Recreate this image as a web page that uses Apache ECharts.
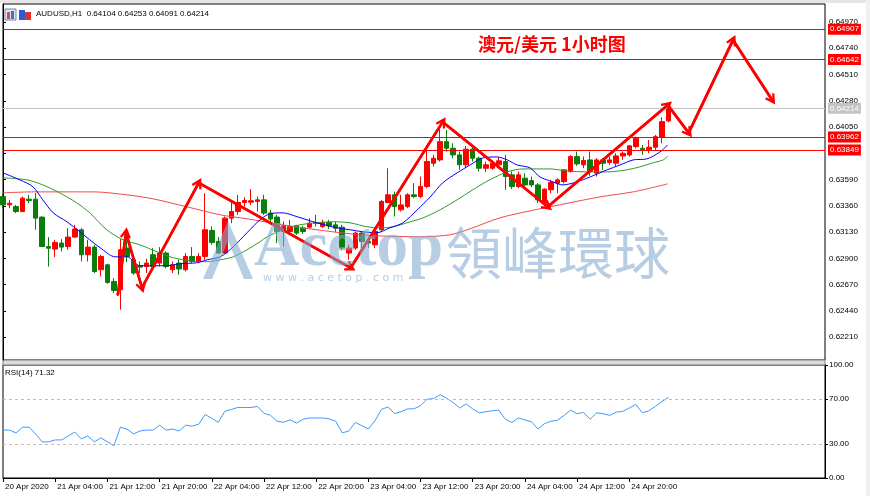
<!DOCTYPE html>
<html>
<head>
<meta charset="utf-8">
<title>AUDUSD H1</title>
<script src="https://cdn.jsdelivr.net/npm/echarts@6/dist/echarts.min.js"></script>
<style>
  html, body { margin: 0; padding: 0; background: #fff; }
  #charts { width: 870px; height: 496px; }
</style>
</head>
<body>
<div id="charts"></div>
<script>
/* candles: open, high, low, close (H1 bars) */
let candles = [
  [0.63441, 0.63474, 0.63342, 0.63368], [0.63368, 0.63412, 0.63339, 0.63383],
  [0.63353, 0.63368, 0.63296, 0.63310], [0.63310, 0.63441, 0.63303, 0.63427],
  [0.63418, 0.63456, 0.63383, 0.63406], [0.63418, 0.63470, 0.63150, 0.63252],
  [0.63261, 0.63266, 0.62998, 0.63003], [0.63003, 0.63086, 0.62828, 0.62988],
  [0.62981, 0.63062, 0.62911, 0.63039], [0.63033, 0.63068, 0.62961, 0.62998],
  [0.63003, 0.63164, 0.62975, 0.63086], [0.63086, 0.63193, 0.63077, 0.63156],
  [0.63150, 0.63164, 0.62872, 0.62931], [0.62931, 0.63062, 0.62872, 0.62998],
  [0.62998, 0.63018, 0.62770, 0.62784], [0.62800, 0.62931, 0.62741, 0.62916],
  [0.62843, 0.62852, 0.62677, 0.62689], [0.62697, 0.62727, 0.62596, 0.62618],
  [0.62625, 0.63068, 0.62450, 0.62975], [0.62990, 0.63062, 0.62866, 0.62916],
  [0.62887, 0.62916, 0.62756, 0.62771], [0.62835, 0.62872, 0.62771, 0.62823],
  [0.62828, 0.62896, 0.62771, 0.62858], [0.62931, 0.62989, 0.62811, 0.62828],
  [0.62858, 0.62998, 0.62828, 0.62946], [0.62946, 0.62961, 0.62811, 0.62828],
  [0.62800, 0.62872, 0.62771, 0.62843], [0.62858, 0.62887, 0.62756, 0.62806],
  [0.62800, 0.62946, 0.62785, 0.62916], [0.62916, 0.62998, 0.62858, 0.62872],
  [0.62872, 0.62946, 0.62858, 0.62916], [0.62916, 0.63470, 0.62887, 0.63150],
  [0.63144, 0.63179, 0.63018, 0.63039], [0.63048, 0.63086, 0.62940, 0.62946],
  [0.62946, 0.63266, 0.62940, 0.63252], [0.63252, 0.63398, 0.63208, 0.63310],
  [0.63310, 0.63456, 0.63281, 0.63389], [0.63389, 0.63435, 0.63353, 0.63406],
  [0.63392, 0.63506, 0.63368, 0.63404], [0.63398, 0.63441, 0.63310, 0.63412],
  [0.63412, 0.63456, 0.63281, 0.63296], [0.63296, 0.63325, 0.63193, 0.63244],
  [0.63261, 0.63281, 0.63033, 0.63135], [0.63135, 0.63223, 0.63003, 0.63185],
  [0.63135, 0.63237, 0.63121, 0.63179], [0.63185, 0.63193, 0.63106, 0.63121],
  [0.63164, 0.63185, 0.63114, 0.63135], [0.63173, 0.63252, 0.63164, 0.63208],
  [0.63214, 0.63281, 0.63179, 0.63208], [0.63179, 0.63237, 0.63164, 0.63214],
  [0.63214, 0.63237, 0.63158, 0.63185], [0.63193, 0.63220, 0.63129, 0.63164],
  [0.63173, 0.63193, 0.62970, 0.62990], [0.62946, 0.63018, 0.62887, 0.62990],
  [0.62990, 0.63135, 0.62975, 0.63121], [0.63121, 0.63135, 0.62990, 0.63048],
  [0.63048, 0.63080, 0.62990, 0.63033], [0.63018, 0.63150, 0.62990, 0.63135],
  [0.63150, 0.63412, 0.63135, 0.63398], [0.63389, 0.63689, 0.63383, 0.63456],
  [0.63456, 0.63485, 0.63266, 0.63353], [0.63325, 0.63456, 0.63310, 0.63368],
  [0.63353, 0.63470, 0.63339, 0.63456], [0.63456, 0.63558, 0.63427, 0.63441],
  [0.63441, 0.63616, 0.63427, 0.63529], [0.63529, 0.63864, 0.63514, 0.63748],
  [0.63733, 0.63806, 0.63704, 0.63777], [0.63762, 0.64054, 0.63748, 0.63922],
  [0.63922, 0.64025, 0.63835, 0.63864], [0.63864, 0.63908, 0.63777, 0.63806],
  [0.63806, 0.63835, 0.63675, 0.63719], [0.63719, 0.63884, 0.63692, 0.63856],
  [0.63856, 0.63870, 0.63748, 0.63777], [0.63777, 0.63791, 0.63660, 0.63689],
  [0.63689, 0.63745, 0.63657, 0.63719], [0.63689, 0.63762, 0.63675, 0.63733],
  [0.63719, 0.63789, 0.63701, 0.63754], [0.63748, 0.63806, 0.63500, 0.63616],
  [0.63631, 0.63660, 0.63506, 0.63529], [0.63529, 0.63660, 0.63514, 0.63631],
  [0.63602, 0.63646, 0.63529, 0.63543], [0.63581, 0.63616, 0.63523, 0.63543],
  [0.63543, 0.63558, 0.63383, 0.63412], [0.63383, 0.63514, 0.63353, 0.63506],
  [0.63500, 0.63587, 0.63471, 0.63564], [0.63558, 0.63602, 0.63471, 0.63587],
  [0.63573, 0.63680, 0.63558, 0.63675], [0.63660, 0.63806, 0.63651, 0.63791],
  [0.63791, 0.63835, 0.63710, 0.63727], [0.63719, 0.63791, 0.63689, 0.63756],
  [0.63762, 0.63835, 0.63622, 0.63660], [0.63646, 0.63777, 0.63616, 0.63762],
  [0.63762, 0.63777, 0.63675, 0.63733], [0.63739, 0.63791, 0.63719, 0.63762],
  [0.63733, 0.63820, 0.63704, 0.63797], [0.63797, 0.63835, 0.63762, 0.63820],
  [0.63806, 0.63893, 0.63791, 0.63885], [0.63879, 0.63966, 0.63864, 0.63952],
  [0.63864, 0.63893, 0.63806, 0.63850], [0.63850, 0.63937, 0.63821, 0.63873],
  [0.63873, 0.63981, 0.63850, 0.63966], [0.63960, 0.64136, 0.63908, 0.64097],
  [0.64104, 0.64253, 0.64091, 0.64214],
];

/* moving averages: [bar index, price] */
let maBlue = [
  [0, 0.63648], [2.6, 0.63587], [4.6, 0.63526], [6.1, 0.63412], [7.7, 0.63298],
  [9.8, 0.6322], [11.8, 0.63132], [13.3, 0.63062], [14.9, 0.62992], [17.2, 0.62913],
  [19, 0.62913], [21, 0.62835], [23, 0.62835], [25.1, 0.62835], [27.1, 0.62852],
  [29.7, 0.62861], [31.3, 0.62887], [33.3, 0.62913], [35.3, 0.63001], [37.4, 0.63124],
  [39.4, 0.63237], [40.9, 0.6329], [42.9, 0.63298], [45.1, 0.63264], [48.1, 0.63211],
  [51.2, 0.63167], [53.2, 0.6315], [55.2, 0.63132], [57.3, 0.63124], [59.3, 0.63167],
  [61.3, 0.63211], [63.5, 0.63325], [65.5, 0.63438], [67.4, 0.63561], [69.6, 0.63648],
  [71.6, 0.63718], [73.6, 0.6378], [75.7, 0.63788], [77.3, 0.63762], [78.8, 0.63718],
  [80.8, 0.63692], [82.3, 0.63613], [84.3, 0.6357], [85.8, 0.63543], [88, 0.6357],
  [90, 0.63613], [92.6, 0.63675], [94.6, 0.63718], [96.6, 0.63762], [98.7, 0.63771],
  [100.7, 0.63832], [101.9, 0.63894],
];
let maGreen = [
  [0, 0.63605], [3.7, 0.63587], [6.1, 0.63543], [8.7, 0.63473], [11.3, 0.63386],
  [13.3, 0.63298], [15.9, 0.6315], [18.4, 0.63062], [21, 0.63018], [23.6, 0.62957],
  [26.1, 0.62905], [28.7, 0.62878], [31.3, 0.6287], [33.3, 0.62887], [35.3, 0.62913],
  [37.4, 0.62975], [39.4, 0.63045], [40.5, 0.63089], [42.9, 0.6315], [45.5, 0.63193],
  [48.1, 0.63211], [50.6, 0.6322], [53.2, 0.63211], [55.8, 0.63176], [57.8, 0.63167],
  [59.8, 0.63176], [61.9, 0.63211], [64.4, 0.63255], [67, 0.63325], [69.6, 0.63412],
  [72, 0.635], [74.6, 0.63587], [77.3, 0.63657], [79.7, 0.63683], [83.8, 0.63683],
  [86.4, 0.63666], [89.5, 0.63657], [92.6, 0.63657], [95.6, 0.63675], [97.6, 0.63701],
  [99.6, 0.63736], [101.2, 0.63762], [101.9, 0.63797],
];
let maRed = [
  [0, 0.63473], [4.6, 0.63482], [9.8, 0.63482], [13.8, 0.63482], [19, 0.63456],
  [23, 0.63421], [28.2, 0.63351], [33.3, 0.63281], [37.4, 0.63246], [42.9, 0.63193],
  [48.1, 0.6315], [53.2, 0.63115], [57.3, 0.63097], [63.9, 0.63089], [68.5, 0.63106],
  [71.6, 0.63159], [76.2, 0.63255], [80.8, 0.63316], [83.8, 0.63351], [91.5, 0.63438],
  [96.6, 0.63482], [101.9, 0.63552],
];

/* RSI(14) per bar */
let rsiValues = [
  42.4, 42.4, 39.8, 45.0, 45.0, 39.0, 32.0, 32.0, 33.7, 33.7,
  37.2, 40.7, 34.6, 37.2, 32.0, 35.5, 32.0, 28.5, 45.0, 43.3,
  39.0, 41.6, 42.4, 42.4, 46.7, 42.4, 43.3, 41.6, 46.7, 45.9,
  47.6, 56.3, 52.8, 49.3, 59.0, 60.7, 62.4, 62.4, 62.4, 63.3,
  57.2, 55.5, 50.3, 49.3, 51.4, 48.6, 52.0, 53.1, 53.1, 53.1,
  52.3, 50.3, 40.0, 41.5, 49.2, 46.3, 43.4, 50.5, 60.6, 62.9,
  57.1, 58.6, 61.2, 61.2, 64.0, 69.7, 70.3, 73.7, 70.6, 66.8,
  62.0, 65.5, 61.2, 57.7, 58.6, 59.5, 60.0, 52.0, 49.2, 53.1,
  51.4, 49.7, 43.4, 48.0, 50.3, 51.1, 55.4, 60.0, 56.9, 58.0,
  52.0, 57.7, 56.9, 55.4, 58.3, 58.9, 62.0, 65.1, 57.7, 59.5,
  63.4, 67.7, 71.32,
];

/* hand drawn forecast path: [bar index, price] */
let arrowPath = [
  [17.6, 0.62581], [18.85, 0.63124], [21.3, 0.62642], [30.0, 0.63561],
  [53.3, 0.62817], [67.4, 0.64095], [83.5, 0.63351], [101.9, 0.64243],
  [105.1, 0.63999], [111.9, 0.64812], [117.9, 0.64287],
];

let levelLines = [0.64907, 0.64642, 0.63962, 0.63849];
let lastPrice = 0.64214;
let priceTicks = [0.6221, 0.6244, 0.6267, 0.629, 0.6313, 0.6336, 0.6359,
  0.6382, 0.6405, 0.6428, 0.6451, 0.6474, 0.6497];
let rsiTicks = [0, 30, 70, 100];
let rsiLevels = [70, 30];
let timeLabels = ["20 Apr 2020", "21 Apr 04:00", "21 Apr 12:00", "21 Apr 20:00",
  "22 Apr 04:00", "22 Apr 12:00", "22 Apr 20:00", "23 Apr 04:00", "23 Apr 12:00",
  "23 Apr 20:00", "24 Apr 04:00", "24 Apr 12:00", "24 Apr 20:00"];

let slotCount = 127; // bars + empty room on the right
let labelStep = 8;
let uiFont = "Liberation Sans";

/* category slots for the bar axis */
let slots = [];
for (let i = 0; i < slotCount; i++) {
  slots.push(String(i));
}

/* show a time tick every 8 bars, only where a label exists */
function isTimeTick(index) {
  return index % labelStep === 0 && index / labelStep < timeLabels.length;
}

/* price tags at the right edge */
function levelMark(value, color) {
  return {
    yAxis: value,
    lineStyle: { color: color, width: 1, type: "solid" },
    label: {
      show: true,
      position: "end",
      distance: 3,
      formatter: function (p) {
        return Number(p.value).toFixed(5);
      },
      color: "#ffffff",
      backgroundColor: color,
      padding: [2, 2, 1, 2],
      fontSize: 8,
      fontFamily: uiFont,
    },
  };
}

let arrowSegments = [];
for (let i = 1; i < arrowPath.length; i++) {
  arrowSegments.push([{ coord: arrowPath[i - 1] }, { coord: arrowPath[i] }]);
}

let myChart = echarts.init(document.getElementById("charts"));
let wmColor = "rgba(130,168,208,0.58)";
let option = {
  animation: false,
  backgroundColor: "#ffffff",
  grid: [
    { left: 3, top: 4, width: 822, height: 356, show: true, borderColor: "#000", borderWidth: 1, backgroundColor: "#fff" },
    { left: 3, top: 365, width: 822, height: 113, show: true, borderColor: "#000", borderWidth: 1, backgroundColor: "#fff" },
  ],
  xAxis: [
    {
      type: "category", gridIndex: 0, data: slots, boundaryGap: false,
      axisLine: { show: false }, axisTick: { show: false }, axisLabel: { show: false }, splitLine: { show: false },
    },
    { type: "value", gridIndex: 0, min: 0, max: slotCount - 1, show: false },
    {
      type: "category", gridIndex: 1, data: slots, boundaryGap: false,
      axisLine: { show: true, lineStyle: { color: "#000" } },
      axisTick: { show: true, length: 4, interval: isTimeTick, lineStyle: { color: "#000" } },
      axisLabel: {
        interval: isTimeTick,
        formatter: function (v, idx) {
          return timeLabels[idx / labelStep] || "";
        },
        align: "left",
        padding: [0, 0, 0, 2],
        margin: 5,
        fontSize: 8,
        color: "#000",
        fontFamily: uiFont,
      },
      splitLine: { show: false },
    },
  ],
  yAxis: [
    {
      type: "value", gridIndex: 0, position: "right", min: 0.62009, max: 0.65128,
      splitLine: { show: false },
      axisLine: { show: true, lineStyle: { color: "#000" } },
      axisTick: { show: true, length: 3, customValues: priceTicks, lineStyle: { color: "#000" } },
      axisLabel: {
        customValues: priceTicks,
        formatter: function (v) {
          return v.toFixed(5);
        },
        margin: 4, fontSize: 8, color: "#000", fontFamily: uiFont,
      },
    },
    {
      type: "value", gridIndex: 1, position: "right", min: 0, max: 100,
      splitLine: { show: false },
      axisLine: { show: true, lineStyle: { color: "#000" } },
      axisTick: { show: true, length: 3, customValues: rsiTicks, lineStyle: { color: "#000" } },
      axisLabel: {
        customValues: rsiTicks,
        formatter: function (v) {
          return v.toFixed(2);
        },
        margin: 4, fontSize: 8, color: "#000", fontFamily: uiFont,
      },
    },
  ],
  series: [
    {
      type: "candlestick",
      xAxisIndex: 0,
      yAxisIndex: 0,
      barWidth: 5,
      data: candles.map(function (c) {
        return [c[0], c[3], c[2], c[1]];
      }),
      itemStyle: { color: "#ff0000", color0: "#0a7d0a", borderColor: "#ff0000", borderColor0: "#0a7d0a", borderWidth: 1 },
      markLine: {
        silent: true,
        symbol: "none",
        precision: 5,
        animation: false,
        data: levelLines.map(function (v) {
          return levelMark(v, "#ff0000");
        }).concat([levelMark(lastPrice, "#c4c4c4")]),
      },
      z: 2,
    },
    {
      type: "line", xAxisIndex: 1, yAxisIndex: 0, data: maRed, showSymbol: false, smooth: 0.3,
      lineStyle: { color: "#f24a4a", width: 1 }, z: 3,
    },
    {
      type: "line", xAxisIndex: 1, yAxisIndex: 0, data: maGreen, showSymbol: false, smooth: 0.3,
      lineStyle: { color: "#2f9a2f", width: 1 }, z: 3,
    },
    {
      type: "line", xAxisIndex: 1, yAxisIndex: 0, data: maBlue, showSymbol: false, smooth: 0.3,
      lineStyle: { color: "#0000ff", width: 1 }, z: 3,
    },
    {
      type: "line", xAxisIndex: 1, yAxisIndex: 0, data: arrowPath, showSymbol: false,
      lineStyle: { color: "#ff0000", width: 2.6, join: "round", cap: "round" }, z: 6,
      markLine: {
        silent: true,
        animation: false,
        precision: 5,
        symbol: ["none", "path://M5,0 L10,9 L8.2,10 L5,4.6 L1.8,10 L0,9 Z"],
        symbolSize: [11, 11],
        label: { show: false },
        lineStyle: { color: "#ff0000", width: 2.6, type: "solid" },
        data: arrowSegments,
      },
    },
    {
      type: "line", xAxisIndex: 2, yAxisIndex: 1, data: rsiValues, showSymbol: false,
      lineStyle: { color: "#3d9cff", width: 1 },
      markLine: {
        silent: true,
        symbol: "none",
        animation: false,
        label: { show: false },
        lineStyle: { color: "#bdbdbd", width: 1, type: [3, 3] },
        data: rsiLevels.map(function (v) {
          return { yAxis: v };
        }),
      },
    },
  ],
  graphic: [
    { type: "rect", shape: { x: 0, y: 0, width: 870, height: 3 }, style: { fill: "#e6e6e6" }, silent: true },
    { type: "rect", shape: { x: 866, y: 0, width: 4, height: 496 }, style: { fill: "#f0f0f0" }, silent: true },
    { type: "rect", shape: { x: 3, y: 360, width: 822, height: 5 }, style: { fill: "#dcdcdc", stroke: "#808080", lineWidth: 1 }, silent: true },
    /* header icons and text */
    { type: "rect", shape: { x: 5, y: 9, width: 11, height: 11 }, style: { fill: "#dde7f6", stroke: "#6f86b8" }, silent: true },
    { type: "rect", shape: { x: 7, y: 12, width: 3, height: 7 }, style: { fill: "#e04848" }, silent: true },
    { type: "rect", shape: { x: 11, y: 11, width: 3, height: 8 }, style: { fill: "#4a6fc4" }, silent: true },
    { type: "rect", shape: { x: 19, y: 10, width: 6, height: 10 }, style: { fill: "#2d5bd0" }, silent: true },
    { type: "rect", shape: { x: 25, y: 12, width: 6, height: 8 }, style: { fill: "#e03030" }, silent: true },
    {
      type: "text", x: 36, y: 14, silent: true,
      style: { text: "AUDUSD,H1  0.64104 0.64253 0.64091 0.64214", font: "8px 'Liberation Sans'", fill: "#000", verticalAlign: "middle" },
    },
    {
      type: "text", x: 478, y: 44, silent: true,
      style: { text: "澳元/美元 1小时图", font: "bold 18px 'Noto Sans CJK SC'", fill: "#ff0000", verticalAlign: "middle" },
    },
    {
      type: "text", x: 5, y: 373, silent: true,
      style: { text: "RSI(14) 71.32", font: "8px 'Liberation Sans'", fill: "#000", verticalAlign: "middle" },
    },
    /* watermark */
    {
      type: "polygon", z: 20, silent: true,
      shape: { points: [[203, 279], [228, 221], [253, 279], [244, 279], [228, 241], [212, 279]] },
      style: { fill: wmColor },
    },
    {
      type: "text", z: 20, silent: true, x: 254, y: 249,
      style: { text: "Acetop", font: "bold 63px 'Liberation Serif'", fill: wmColor, verticalAlign: "middle" },
    },
    {
      type: "text", z: 20, silent: true, x: 446, y: 253,
      style: { text: "領峰環球", font: "56px 'Noto Sans CJK TC'", fill: wmColor, verticalAlign: "middle" },
    },
    {
      type: "text", z: 20, silent: true, x: 263, y: 278,
      style: { text: "w w w . a c e t o p . c o m", font: "11px 'DejaVu Sans'", fill: wmColor, verticalAlign: "middle" },
    },
  ],
};
myChart.setOption(option);
</script>
</body>
</html>
